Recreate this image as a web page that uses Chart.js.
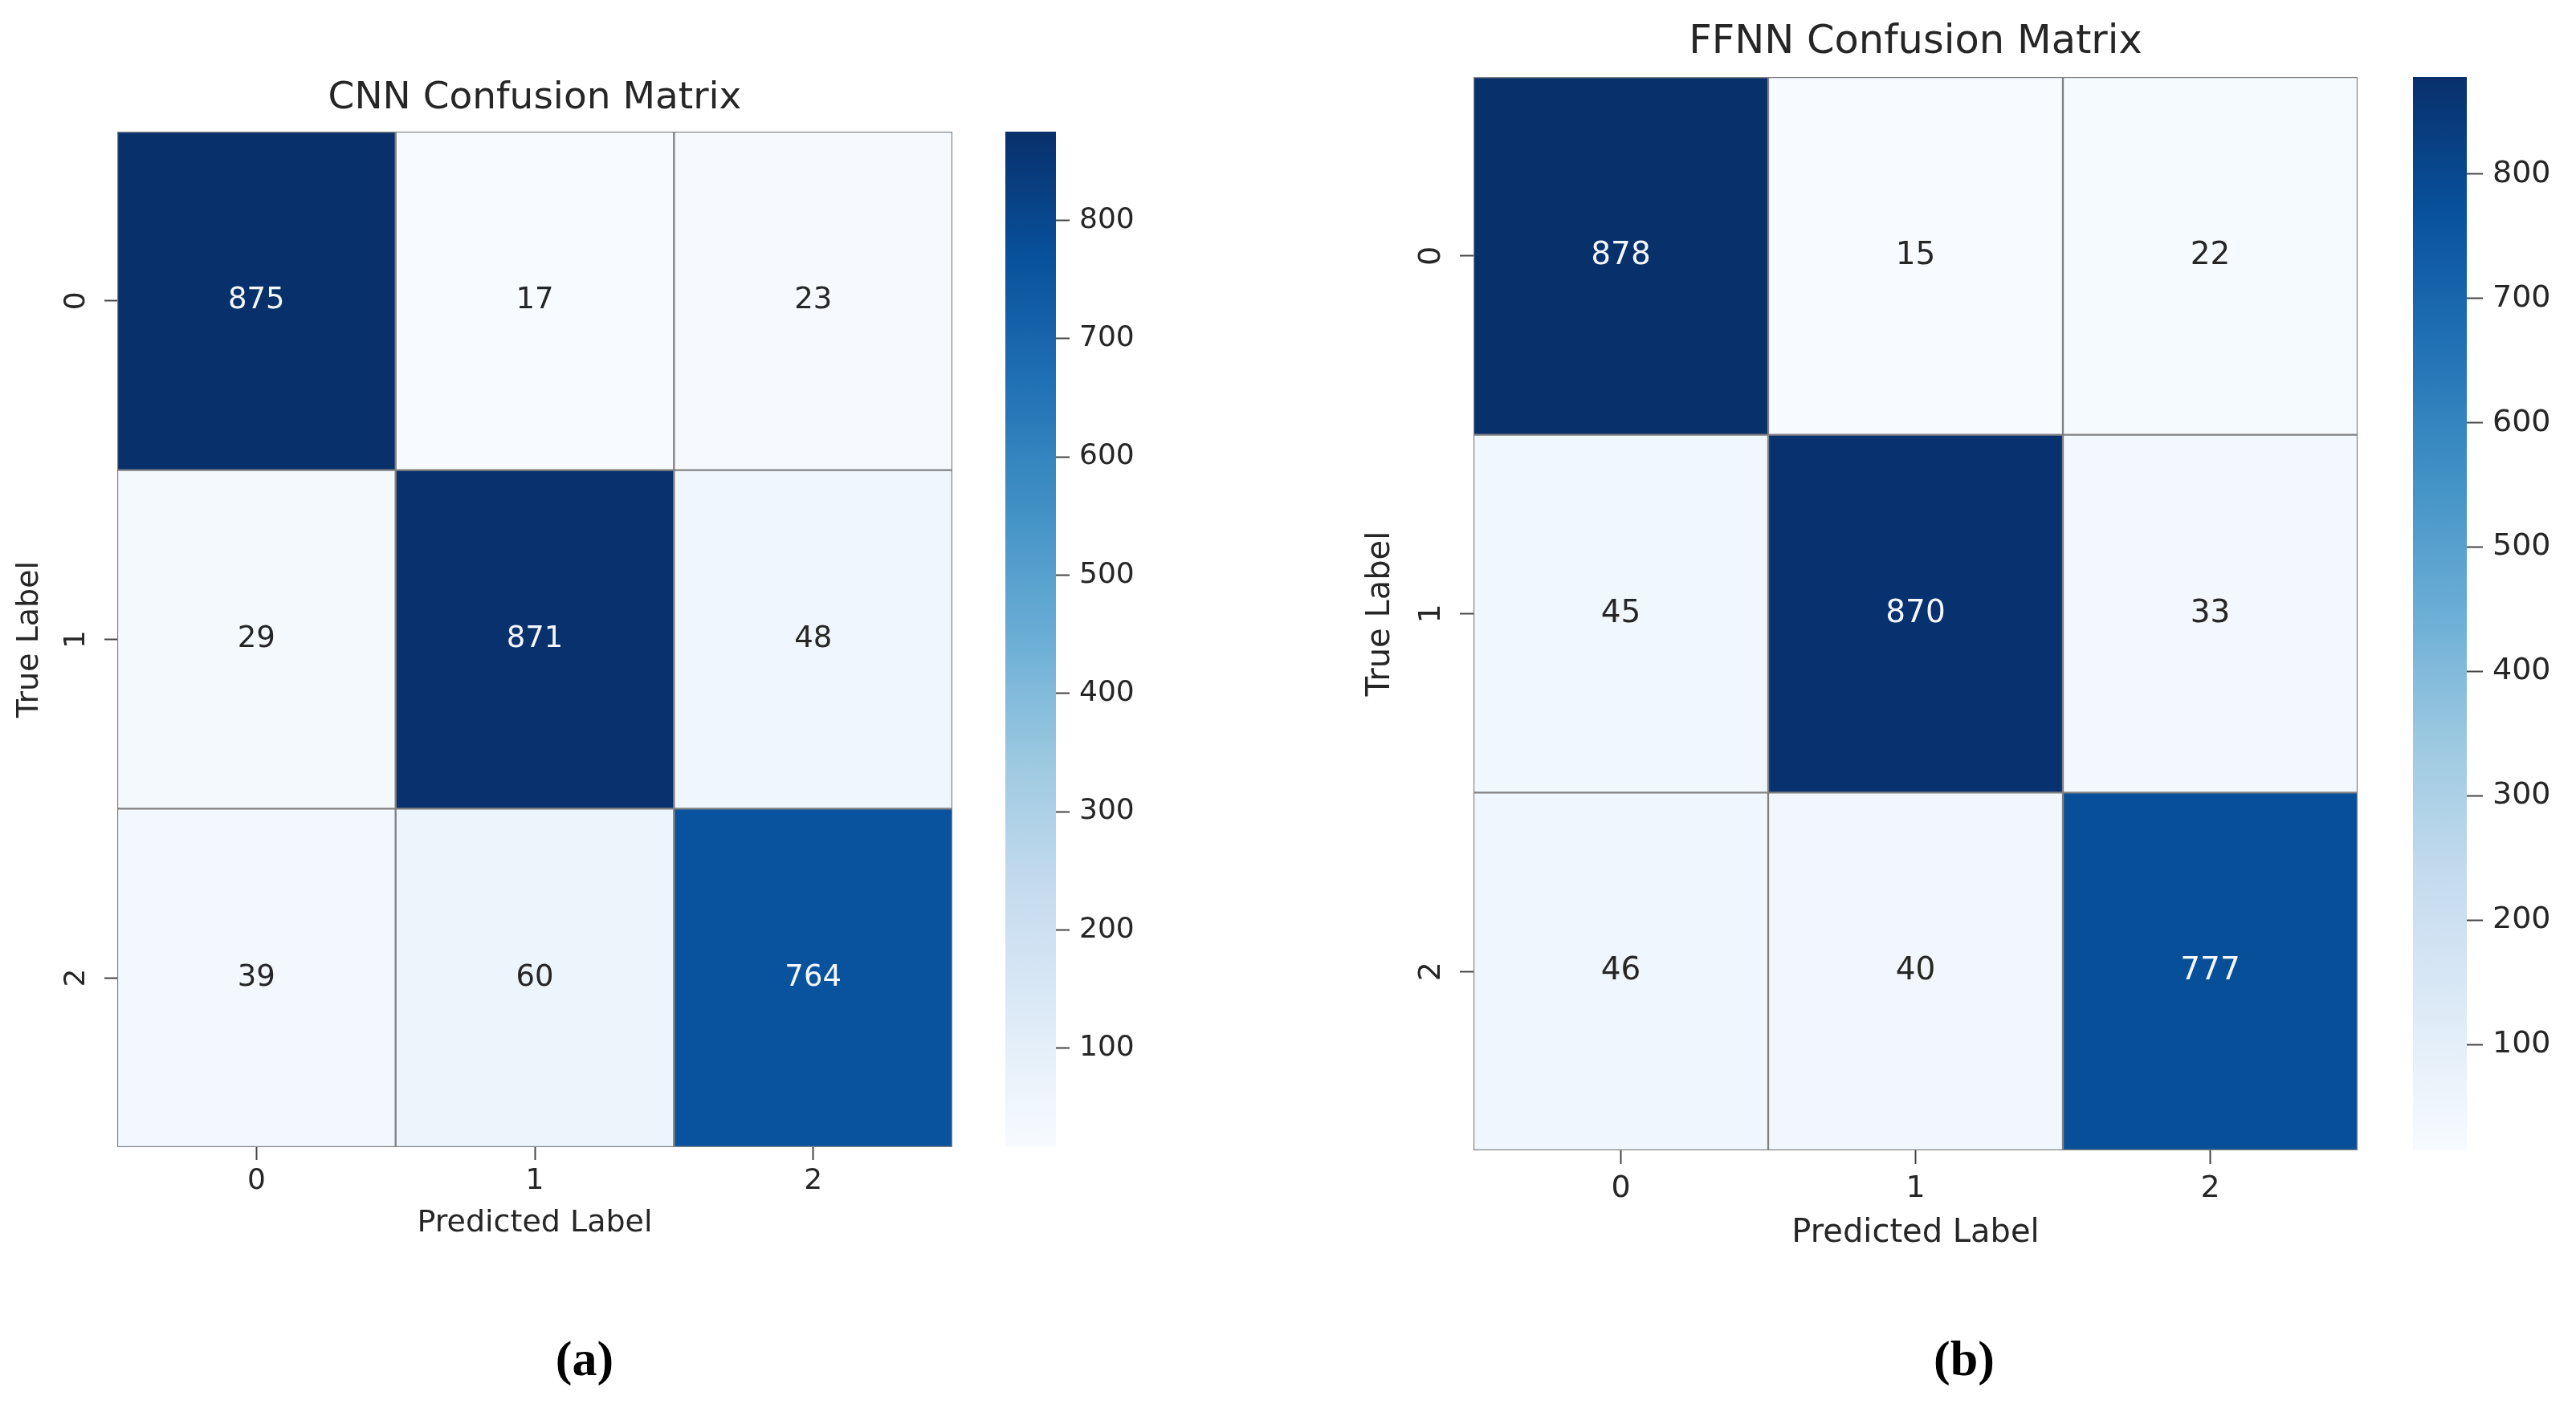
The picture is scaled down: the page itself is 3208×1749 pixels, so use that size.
<!DOCTYPE html>
<html>
<head>
<meta charset="utf-8">
<script src="https://cdn.jsdelivr.net/npm/chart.js@4.4.1/dist/chart.umd.min.js"></script>
<style>
  body { margin: 0; background: #fff; width: 3208px; height: 1749px; overflow: hidden; position: relative; }
  canvas { position: absolute; }
  .cap { position: absolute; font: bold 62px "Liberation Serif", serif; color: #000; transform: translate(-50%, -50%); }
</style>
</head>
<body>
<canvas id="cnnHeat" style="left:0px;top:80px"></canvas>
<canvas id="cnnBar" style="left:1252px;top:164px"></canvas>
<canvas id="ffnnHeat" style="left:1680px;top:10px"></canvas>
<canvas id="ffnnBar" style="left:3005px;top:96px"></canvas>
<div class="cap" style="left:728px;top:1692px">(a)</div>
<div class="cap" style="left:2446px;top:1692px">(b)</div>
<script>
// data
const predictedLabels = ["0", "1", "2"];
const trueLabels = ["0", "1", "2"];
const cnnCounts = [
  [875, 17, 23],
  [29, 871, 48],
  [39, 60, 764],
];
const ffnnCounts = [
  [878, 15, 22],
  [45, 870, 33],
  [46, 40, 777],
];
const colorbarTicks = [100, 200, 300, 400, 500, 600, 700, 800];

// matplotlib "Blues"
const BLUES = ["#f7fbff", "#deebf7", "#c6dbef", "#9ecae1", "#6baed6", "#4292c6", "#2171b5", "#08519c", "#08306b"];
const FONT = "DejaVu Sans";
const TEXT = "#262626";
Chart.defaults.font.family = FONT;

function hexRgb(h) {
  return [1, 3, 5].map((i) => parseInt(h.slice(i, i + 2), 16));
}
function blues(t) {
  t = Math.min(1, Math.max(0, t)) * (BLUES.length - 1);
  const i = Math.min(BLUES.length - 2, Math.floor(t));
  const f = t - i;
  const a = hexRgb(BLUES[i]), b = hexRgb(BLUES[i + 1]);
  const c = a.map((v, k) => Math.round(v + (b[k] - v) * f));
  return `rgb(${c[0]},${c[1]},${c[2]})`;
}

// cell values, white on dark cells like seaborn
const annotate = {
  id: "annotate",
  afterDatasetsDraw(chart, args, opts) {
    const { ctx } = chart;
    ctx.save();
    ctx.font = `${opts.size}px "${FONT}"`;
    ctx.textAlign = "center";
    ctx.textBaseline = "middle";
    chart.data.datasets.forEach((ds, di) => {
      chart.getDatasetMeta(di).data.forEach((bar, ci) => {
        const v = ds.counts[ci];
        const p = bar.getProps(["x", "y", "base"], true);
        ctx.fillStyle = (v - opts.vmin) / (opts.vmax - opts.vmin) > 0.5 ? "#f4f7fb" : TEXT;
        ctx.fillText(String(v), p.x, (p.y + p.base) / 2);
      });
    });
    ctx.restore();
  },
};

// seaborn rotates the row labels
const rotatedYTicks = {
  id: "rotatedYTicks",
  afterDraw(chart, args, opts) {
    const s = chart.scales.y;
    const { ctx } = chart;
    ctx.save();
    ctx.font = `${opts.size}px "${FONT}"`;
    ctx.fillStyle = TEXT;
    ctx.textAlign = "center";
    ctx.textBaseline = "middle";
    s.ticks.forEach((t) => {
      ctx.save();
      ctx.translate(s.right - opts.offset, s.getPixelForValue(t.value));
      ctx.rotate(-Math.PI / 2);
      ctx.fillText(trueLabels[t.value], 0, 0);
      ctx.restore();
    });
    ctx.restore();
  },
};

function heatmap(id, counts, title, p) {
  const flat = counts.flat();
  const vmin = Math.min(...flat), vmax = Math.max(...flat);
  const canvas = document.getElementById(id);
  canvas.width = p.w;
  canvas.height = p.h;
  new Chart(canvas, {
    type: "bar",
    data: {
      labels: predictedLabels,
      datasets: counts.map((row, r) => ({
        counts: row,
        data: row.map(() => [r - 0.5, r + 0.5]),
        backgroundColor: row.map((v) => blues((v - vmin) / (vmax - vmin))),
        borderColor: "#808080",
        borderWidth: 1.5,
        borderSkipped: false,
        barPercentage: 1,
        categoryPercentage: 1,
        grouped: false,
      })),
    },
    options: {
      responsive: false,
      animation: false,
      events: [],
      layout: { padding: 0, autoPadding: false },
      plugins: {
        legend: { display: false },
        tooltip: { enabled: false },
        title: {
          display: true,
          text: title,
          fullSize: false,
          color: TEXT,
          font: { size: p.titleSize, weight: "normal" },
          padding: { top: p.titleTop, bottom: p.titleBottom },
        },
        annotate: { size: p.annotSize, vmin, vmax },
        rotatedYTicks: { size: p.tickSize, offset: p.yTickOffset },
      },
      scales: {
        x: {
          offset: true,
          grid: { drawOnChartArea: false, offset: false, tickLength: p.tickLen, tickWidth: 2, tickColor: "#444" },
          border: { display: false },
          ticks: { color: TEXT, font: { size: p.tickSize }, padding: p.tickPad, maxRotation: 0 },
          title: {
            display: true,
            text: "Predicted Label",
            color: TEXT,
            font: { size: p.labelSize },
            padding: { top: 0, bottom: p.xTitleBottom },
          },
          afterFit: (s) => { s.height = p.xAxisH; },
        },
        y: {
          type: "linear",
          min: -0.5,
          max: 2.5,
          reverse: true,
          afterBuildTicks: (s) => { s.ticks = trueLabels.map((_, i) => ({ value: i })); },
          ticks: { display: false },
          grid: { drawOnChartArea: false, tickLength: p.tickLen, tickWidth: 2, tickColor: "#444" },
          border: { display: false },
          title: {
            display: true,
            text: "True Label",
            color: TEXT,
            font: { size: p.labelSize },
            padding: { top: p.yTitleTop, bottom: 0 },
          },
          afterFit: (s) => { s.width = p.yAxisW; },
        },
      },
    },
    plugins: [annotate, rotatedYTicks],
  });
}

function colorbar(id, counts, p) {
  const flat = counts.flat();
  const vmin = Math.min(...flat), vmax = Math.max(...flat);
  const canvas = document.getElementById(id);
  canvas.width = p.w;
  canvas.height = p.h;
  new Chart(canvas, {
    type: "bar",
    data: {
      labels: [""],
      datasets: [{
        data: [[vmin, vmax]],
        backgroundColor: (c) => {
          const area = c.chart.chartArea;
          if (!area) return BLUES[4];
          const g = c.chart.ctx.createLinearGradient(0, area.bottom, 0, area.top);
          for (let i = 0; i <= 32; i++) g.addColorStop(i / 32, blues(i / 32));
          return g;
        },
        borderWidth: 0,
        barPercentage: 1,
        categoryPercentage: 1,
      }],
    },
    options: {
      responsive: false,
      animation: false,
      events: [],
      layout: { padding: 0, autoPadding: false },
      plugins: { legend: { display: false }, tooltip: { enabled: false } },
      scales: {
        x: { display: false },
        y: {
          position: "right",
          min: vmin,
          max: vmax,
          afterBuildTicks: (s) => { s.ticks = colorbarTicks.map((v) => ({ value: v })); },
          ticks: { color: TEXT, font: { size: p.tickSize }, padding: p.tickPad },
          grid: { drawOnChartArea: false, tickLength: p.tickLen, tickWidth: 2, tickColor: "#444" },
          border: { display: false },
          // bar must fill the full canvas height, no room reserved for label overhang
          afterFit: (s) => {
            s.width = p.axisW;
            s.paddingTop = 0;
            s.paddingBottom = 0;
          },
        },
      },
    },
  });
}

heatmap("cnnHeat", cnnCounts, "CNN Confusion Matrix", {
  w: 1186, h: 1480,
  titleSize: 47, titleTop: 14.8, titleBottom: 12.8,
  labelSize: 38, tickSize: 36, annotSize: 37,
  tickLen: 16, tickPad: 5,
  xAxisH: 131, xTitleBottom: 13.2,
  yAxisW: 146, yTitleTop: 14.2, yTickOffset: 50,
});
colorbar("cnnBar", cnnCounts, { w: 203, h: 1264, axisW: 140, tickSize: 36, tickLen: 17, tickPad: 12 });

heatmap("ffnnHeat", ffnnCounts, "FFNN Confusion Matrix", {
  w: 1256, h: 1565,
  titleSize: 49.5, titleTop: 13.3, titleBottom: 13.3,
  labelSize: 40, tickSize: 38, annotSize: 39,
  tickLen: 17, tickPad: 8,
  xAxisH: 142, xTitleBottom: 14,
  yAxisW: 155, yTitleTop: 16, yTickOffset: 52,
});
colorbar("ffnnBar", ffnnCounts, { w: 200, h: 1337, axisW: 133, tickSize: 38, tickLen: 20, tickPad: 12 });
</script>
</body>
</html>
